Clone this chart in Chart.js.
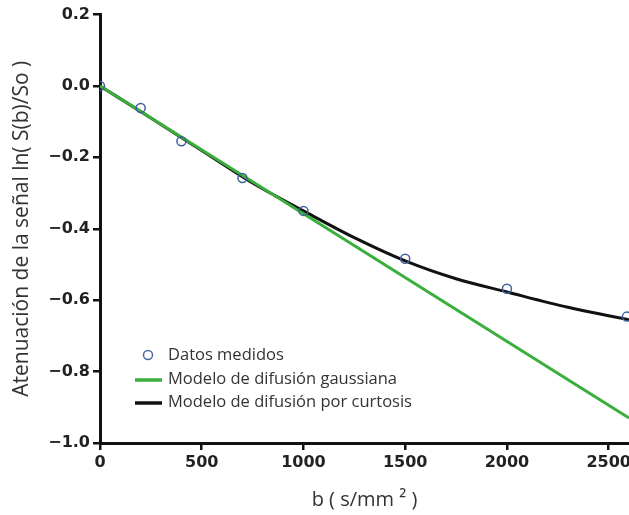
<!DOCTYPE html>
<html>
<head>
<meta charset="utf-8">
<script src="https://cdn.jsdelivr.net/npm/chart.js@4.4.0/dist/chart.umd.min.js"></script>
<style>
  html, body { margin: 0; padding: 0; background: #fff; overflow: hidden; width: 629px; height: 515px; }
  /* a bit wider than the window: the plot is cut at the right edge like the original */
  #wrap { width: 635px; height: 515px; position: relative; }
</style>
</head>
<body>
<div id="wrap"><canvas id="chart"></canvas></div>
<script>
// measured points
const measuredB = [0, 200, 400, 700, 1000, 1500, 2000, 2590];
const measuredS = [0, -0.062, -0.155, -0.258, -0.35, -0.484, -0.568, -0.646];

// gaussian model (straight line)
const gaussB = [0, 2600];
const gaussS = [0, -0.93];

// kurtosis model
const kurtB = [0, 250, 500, 750, 1000, 1250, 1500, 1750, 2000, 2300, 2600];
const kurtS = [0, -0.09, -0.181, -0.272, -0.35, -0.425, -0.49, -0.54, -0.577, -0.62, -0.655];

const legendItems = ['Datos medidos', 'Modelo de difusión gaussiana', 'Modelo de difusión por curtosis'];

const xTicks = [0, 500, 1000, 1500, 2000, 2500];

const toXY = (xs, ys) => xs.map((x, i) => ({ x: x, y: ys[i] }));

const tickFont = { family: '"DejaVu Sans"', size: 16, weight: 'bold' };

const insideLegend = {
    id: 'insideLegend',
    afterDraw(chart) {
        const ctx = chart.ctx;
        ctx.save();
        ctx.font = '16.5px "Open Sans"';
        ctx.fillStyle = '#333';
        ctx.textBaseline = 'middle';
        // circle
        ctx.beginPath();
        ctx.arc(148, 355, 4.5, 0, Math.PI * 2);
        ctx.strokeStyle = '#4a6a9e';
        ctx.lineWidth = 1.5;
        ctx.stroke();
        ctx.fillText(legendItems[0], 168, 355);
        // green line
        ctx.lineWidth = 3.5;
        ctx.strokeStyle = '#3aaf3c';
        ctx.beginPath(); ctx.moveTo(135, 380); ctx.lineTo(162, 380); ctx.stroke();
        ctx.fillText(legendItems[1], 168, 379);
        // black line
        ctx.strokeStyle = '#111';
        ctx.beginPath(); ctx.moveTo(135, 403); ctx.lineTo(162, 403); ctx.stroke();
        ctx.fillText(legendItems[2], 168, 402);
        ctx.restore();
    }
};

new Chart(document.getElementById('chart'), {
    type: 'scatter',
    data: {
        datasets: [
            {
                label: legendItems[0],
                data: toXY(measuredB, measuredS),
                showLine: false,
                pointRadius: 4.5,
                pointBorderWidth: 1.5,
                pointBorderColor: '#3d6098',
                pointBackgroundColor: 'rgba(0,0,0,0)',
                order: 0
            },
            {
                label: legendItems[1],
                data: toXY(gaussB, gaussS),
                showLine: true,
                borderColor: '#3aaf3c',
                borderWidth: 3,
                pointRadius: 0,
                order: 1
            },
            {
                label: legendItems[2],
                data: toXY(kurtB, kurtS),
                showLine: true,
                borderColor: '#111',
                borderWidth: 3,
                pointRadius: 0,
                cubicInterpolationMode: 'monotone',
                order: 2
            }
        ]
    },
    options: {
        responsive: true,
        maintainAspectRatio: false,
        animation: false,
        layout: { padding: { top: 14.5, right: 0, left: 0, bottom: 0 } },
        plugins: { legend: { display: false }, tooltip: { enabled: false } },
        scales: {
            x: {
                type: 'linear',
                min: 0,
                max: 2600,
                afterBuildTicks: (axis) => { axis.ticks = xTicks.map(v => ({ value: v })); },
                afterFit: (axis) => { axis.height = 72; },
                grid: { drawOnChartArea: false, drawTicks: true, tickLength: 7, color: '#111', lineWidth: 2.5 },
                border: { color: '#111', width: 3 },
                ticks: {
                    padding: 3,
                    color: '#222',
                    font: tickFont,
                    callback: (v) => String(v)
                },
                title: {
                    display: true,
                    text: 'b ( s/mm ² )',
                    color: '#333',
                    font: { family: '"Open Sans"', size: 20 },
                    padding: { top: 0, bottom: 3 }
                }
            },
            y: {
                min: -1.0,
                max: 0.2,
                afterFit: (axis) => { axis.width = 100; },
                grid: { drawOnChartArea: false, drawTicks: true, tickLength: 7, color: '#111', lineWidth: 2.5 },
                border: { color: '#111', width: 3 },
                ticks: {
                    stepSize: 0.2,
                    padding: 3,
                    color: '#222',
                    font: tickFont,
                    callback: (v) => (Math.abs(v) < 1e-9 ? '0.0' : v.toFixed(1).replace('-', '\u2212'))
                },
                title: {
                    display: true,
                    text: 'Atenuación de la señal ln( S(b)/So )',
                    color: '#333',
                    font: { family: '"Open Sans"', size: 21 },
                    padding: { top: 9, bottom: 0 }
                }
            }
        }
    },
    plugins: [insideLegend]
});
</script>
</body>
</html>
